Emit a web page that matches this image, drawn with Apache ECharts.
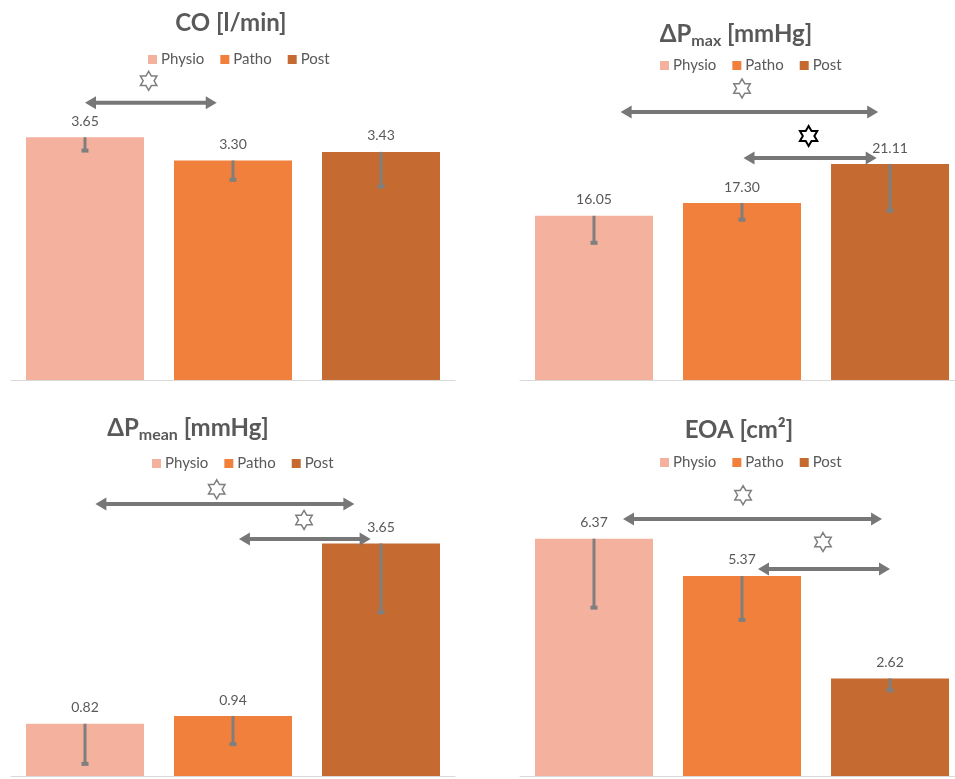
<!DOCTYPE html>
<html>
<head>
<meta charset="utf-8">
<script src="https://cdn.jsdelivr.net/npm/echarts@6/dist/echarts.min.js"></script>
<style>
html,body{margin:0;padding:0;background:#fff;}
#main{width:955px;height:779px;}
</style>
</head>
<body>
<div id="main"></div>
<script>
// ---- data ----
const categories = ['Physio', 'Patho', 'Post'];

const coValues = [3.65, 3.30, 3.43];
const coErrors = [0.20, 0.29, 0.52];

const dpMaxValues = [16.05, 17.30, 21.11];
const dpMaxErrors = [2.64, 1.63, 4.56];

const dpMeanValues = [0.82, 0.94, 3.65];
const dpMeanErrors = [0.63, 0.44, 1.08];

const eoaValues = [6.37, 5.37, 2.62];
const eoaErrors = [1.85, 1.18, 0.32];

// significance annotations: arrows [fromCategoryPos, toCategoryPos, value], stars [categoryPos, value, dark]
const coArrows = [[0, 0.89, 4.17]];
const coStars = [[0.43, 4.50, 0]];
const dpMaxArrows = [[0.18, 1.92, 26.2], [1.01, 1.91, 21.7]];
const dpMaxStars = [[1.0, 28.5, 0], [1.45, 23.85, 1]];
const dpMeanArrows = [[0.07, 1.82, 4.27], [1.04, 1.93, 3.72]];
const dpMeanStars = [[0.89, 4.50, 0], [1.48, 4.02, 0]];
const eoaArrows = [[0.196, 1.946, 6.90], [1.108, 2.0, 5.56]];
const eoaStars = [[1.007, 7.54, 0], [1.547, 6.28, 0]];

// ---- styles ----
const colors = ['#F4B19D', '#F0803B', '#C56A31'];
const textGray = '#595959';
const barGray = '#7F7F7F';
const FONT = 'Lato';

const panels = [
  { values: coValues, errors: coErrors, arrows: coArrows, stars: coStars, yMax: 4,
    grid: { left: 11, width: 444, top: 114, height: 266 }, xMin: -0.5, xMax: 2.5,
    title: '{a|CO [l/min]}', titleX: 231, titleY: 8, legendX: 148, legendY: 52 },
  { values: dpMaxValues, errors: dpMaxErrors, arrows: dpMaxArrows, stars: dpMaxStars, yMax: 25,
    grid: { left: 520, width: 435, top: 124.25, height: 255.75 }, xMin: -0.5, xMax: 2.439,
    title: '{a|ΔP}{s|max}{a| [mmHg]}', titleX: 736, titleY: 19, legendX: 660, legendY: 58 },
  { values: dpMeanValues, errors: dpMeanErrors, arrows: dpMeanArrows, stars: dpMeanStars, yMax: 4,
    grid: { left: 11, width: 444, top: 521.2, height: 254.8 }, xMin: -0.5, xMax: 2.5,
    title: '{a|ΔP}{s|mean}{a| [mmHg]}', titleX: 188, titleY: 413, legendX: 152, legendY: 456 },
  { values: eoaValues, errors: eoaErrors, arrows: eoaArrows, stars: eoaStars, yMax: 8,
    grid: { left: 520, width: 435, top: 478, height: 298 }, xMin: -0.5, xMax: 2.439,
    title: '{a|EOA [cm²]}', titleX: 739, titleY: 415, legendX: 660, legendY: 455 }
];

const grids = [], xAxes = [], yAxes = [], series = [], titles = [], legends = [];

function hexagram(cx, cy, R) {
  const pts = [];
  const r = R / Math.sqrt(3);
  for (let k = 0; k < 12; k++) {
    const ang = (-90 + k * 30) * Math.PI / 180;
    const rad = k % 2 === 0 ? R : r;
    pts.push([cx + rad * Math.cos(ang), cy + rad * Math.sin(ang)]);
  }
  return pts;
}

panels.forEach((p, i) => {
  grids.push(Object.assign({ containLabel: false }, p.grid));
  xAxes.push({
    type: 'value', gridIndex: i, min: p.xMin, max: p.xMax,
    axisLine: { show: true, onZero: true, lineStyle: { color: '#D9D9D9', width: 1 } },
    axisTick: { show: false }, axisLabel: { show: false }, splitLine: { show: false }
  });
  yAxes.push({
    type: 'value', gridIndex: i, min: 0, max: p.yMax,
    axisLine: { show: false }, axisTick: { show: false }, axisLabel: { show: false },
    splitLine: { show: false }
  });
  titles.push({
    text: p.title, left: p.titleX, top: p.titleY, textAlign: 'center', padding: 0,
    textStyle: {
      rich: {
        a: { fontFamily: FONT, fontWeight: 'bold', fontSize: 24, color: textGray, lineHeight: 30 },
        s: { fontFamily: FONT, fontWeight: 'bold', fontSize: 16, color: textGray, lineHeight: 20, padding: [14, 0, 0, 0] }
      }
    }
  });
  legends.push({
    data: categories, left: p.legendX, top: p.legendY, orient: 'horizontal',
    icon: 'rect', itemWidth: 9, itemHeight: 9, itemGap: 16, padding: 0,
    selectedMode: false,
    textStyle: { fontFamily: FONT, fontSize: 15, color: textGray, padding: [0, 0, 0, -1] }
  });

  categories.forEach((c, k) => {
    series.push({
      type: 'bar', name: c, xAxisIndex: i, yAxisIndex: i,
      barWidth: 118, barGap: '-100%',
      itemStyle: { color: colors[k] },
      data: [[k, p.values[k]]],
      label: {
        show: true, position: 'top', distance: 9,
        fontFamily: FONT, fontSize: 14, color: textGray,
        formatter: (d) => Number(d.value[1]).toFixed(2)
      },
      z: 2
    });
  });
  // error bars (minus only)
  series.push({
    type: 'custom', xAxisIndex: i, yAxisIndex: i, clip: false, z: 5,
    data: p.values.map((v, j) => [j, v, p.errors[j]]),
    encode: { x: 0, y: 1 },
    renderItem: function (params, api) {
      const x = api.value(0), v = api.value(1), e = api.value(2);
      const a = api.coord([x, v]);
      const b = api.coord([x, v - e]);
      return {
        type: 'group',
        children: [
          { type: 'line', shape: { x1: a[0], y1: a[1], x2: b[0], y2: b[1] },
            style: { stroke: barGray, lineWidth: 3 } },
          { type: 'line', shape: { x1: b[0] - 3.5, y1: b[1], x2: b[0] + 3.5, y2: b[1] },
            style: { stroke: barGray, lineWidth: 4 } }
        ]
      };
    }
  });
  // arrows
  series.push({
    type: 'custom', xAxisIndex: i, yAxisIndex: i, clip: false, z: 6,
    data: p.arrows,
    encode: { x: [0, 1], y: 2 },
    renderItem: function (params, api) {
      const a = api.coord([api.value(0), api.value(2)]);
      const b = api.coord([api.value(1), api.value(2)]);
      const hl = 11, hw = 6.5;
      const y = a[1];
      return {
        type: 'group',
        children: [
          { type: 'line', shape: { x1: a[0] + hl - 1, y1: y, x2: b[0] - hl + 1, y2: y },
            style: { stroke: '#777777', lineWidth: 4 } },
          { type: 'polygon', shape: { points: [[a[0], y], [a[0] + hl, y - hw], [a[0] + hl, y + hw]] },
            style: { fill: '#777777' } },
          { type: 'polygon', shape: { points: [[b[0], y], [b[0] - hl, y - hw], [b[0] - hl, y + hw]] },
            style: { fill: '#777777' } }
        ]
      };
    }
  });
  // stars
  series.push({
    type: 'custom', xAxisIndex: i, yAxisIndex: i, clip: false, z: 6,
    data: p.stars,
    encode: { x: 0, y: 1 },
    renderItem: function (params, api) {
      const c = api.coord([api.value(0), api.value(1)]);
      const dark = api.value(2) === 1;
      return {
        type: 'polygon',
        shape: { points: hexagram(c[0], c[1], dark ? 10 : 9.5) },
        style: { fill: '#ffffff', stroke: dark ? '#000000' : '#7f7f7f', lineWidth: dark ? 2 : 1.5, lineJoin: 'miter' }
      };
    }
  });
});

const chart = echarts.init(document.getElementById('main'), null, { renderer: 'canvas' });
chart.setOption({
  animation: false,
  backgroundColor: '#ffffff',
  title: titles,
  legend: legends,
  grid: grids,
  xAxis: xAxes,
  yAxis: yAxes,
  series: series
});
</script>
</body>
</html>
